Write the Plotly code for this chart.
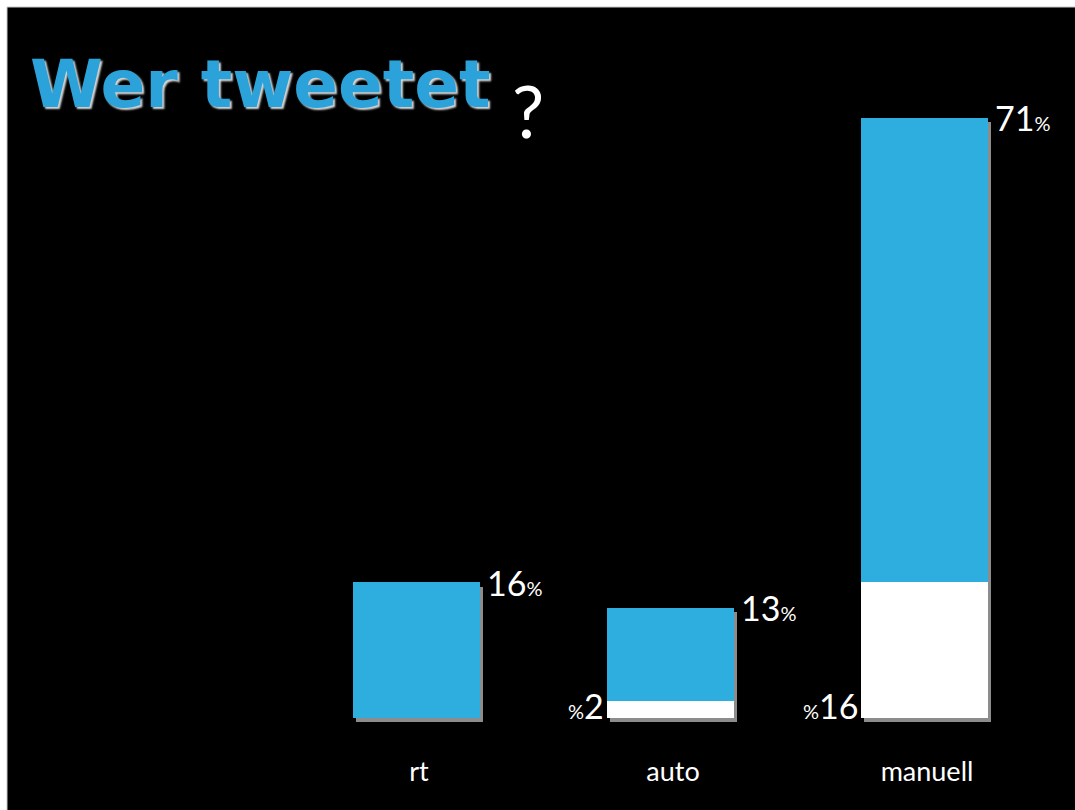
import plotly.graph_objects as go

# ---- data ----
categories = ["rt", "auto", "manuell"]
total_pct = [16, 13, 71]   # blue bars (share of tweets)
white_pct = [0, 2, 16]     # white overlay segment at the bottom
title_text = "Wer tweetet"
title_suffix = "?"

BLUE = "#2EAEDF"
TITLE_BLUE = "#2BA3DA"
FONT = "Lato"
BAR_W = 0.5

W, H = 1075, 810
PW, PH = 762, 676
ML, MT = 289, 50
MR, MB = W - ML - PW, H - MT - PH
BORDER = 7  # white frame on top / left

xpos = list(range(len(categories)))

fig = go.Figure()
# soft drop shadow behind the blue bars
fig.add_trace(go.Bar(
    x=xpos, y=total_pct, base=-0.5, width=BAR_W, offset=-BAR_W / 2 + 0.012,
    marker=dict(color="rgba(175,175,175,0.8)", line_width=0),
    hoverinfo="skip", showlegend=False))
fig.add_trace(go.Bar(
    x=xpos, y=total_pct, width=BAR_W,
    marker=dict(color=BLUE, line_width=0), showlegend=False))
fig.add_trace(go.Bar(
    x=xpos, y=white_pct, width=BAR_W,
    marker=dict(color="white", line_width=0), showlegend=False))

annotations = []
for i, v in enumerate(total_pct):
    annotations.append(dict(
        x=i + BAR_W / 2, y=v, xref="x", yref="y",
        xanchor="left", yanchor="middle", xshift=5, showarrow=False,
        text=f"{v}<span style='font-size:20px'>%</span>",
        font=dict(family=FONT, size=34, color="white")))
for i, v in enumerate(white_pct):
    if v > 0:
        annotations.append(dict(
            x=i - BAR_W / 2, y=0, xref="x", yref="y",
            xanchor="right", yanchor="middle", xshift=-1, yshift=12,
            showarrow=False,
            text=f"<span style='font-size:20px'>%</span>{v}",
            font=dict(family=FONT, size=34, color="white")))
annotations.append(dict(
    x=(527.5 - ML) / PW, y=(MT + PH - 110) / PH, xref="paper", yref="paper",
    xanchor="center", yanchor="middle", showarrow=False,
    text=title_suffix, font=dict(family=FONT, size=72, color="white")))

fig.update_layout(
    template="none",
    width=W, height=H,
    margin=dict(l=ML, r=MR, t=MT, b=MB, pad=0),
    paper_bgcolor="white", plot_bgcolor="black",
    barmode="overlay", bargap=0,
    showlegend=False,
    title=dict(
        text=title_text, x=30 / W, xanchor="left", xref="container",
        y=1 - 84 / H, yanchor="middle", yref="container",
        font=dict(family="DejaVu Sans", size=66, weight="bold",
                  color=TITLE_BLUE, shadow="2px 2px 2px #d8d8d8")),
    xaxis=dict(
        range=[-0.5, len(categories) - 0.5], tickmode="array",
        tickvals=xpos, ticktext=categories, ticklabelshift=3,
        showgrid=False, zeroline=False, showline=False, automargin=False,
        ticks="outside", ticklen=22, tickcolor="rgba(0,0,0,0)",
        tickfont=dict(family=FONT, size=27, color="white"), fixedrange=True),
    yaxis=dict(
        range=[-1, 79], visible=False, showgrid=False, zeroline=False,
        automargin=False, fixedrange=True),
    annotations=annotations,
    shapes=[dict(
        type="rect", xref="paper", yref="paper", layer="below",
        x0=(BORDER - ML) / PW, x1=(W - ML + 20) / PW,
        y0=-(MB + 20) / PH, y1=(MT + PH - BORDER) / PH,
        fillcolor="black", line=dict(color="#c8c8c8", width=1))],
)

fig.write_html(
    "out.html",
    config=dict(displayModeBar=False),
    post_script=("document.documentElement.style.overflow='hidden';"
                 "document.body.style.margin='0';"
                 "document.body.style.overflow='hidden';"),
)
